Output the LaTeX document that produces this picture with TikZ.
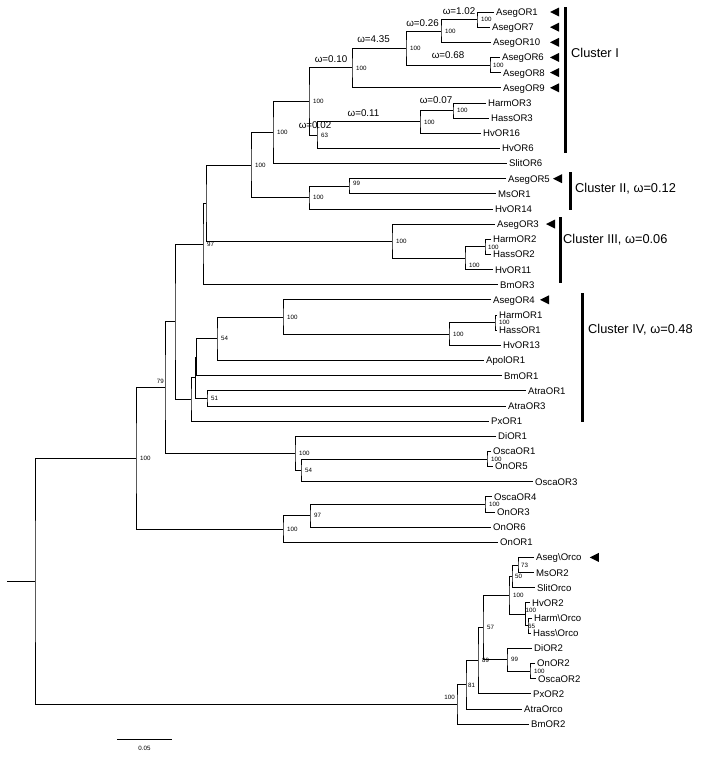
\documentclass[tikz,border=0pt]{standalone}
\usepackage{fontspec}
\setmainfont{Liberation Sans}
\newcommand\LeafY[1]{12+15.15*(#1)}
\newcommand\TriAt[2]{\fill (#1,{#2}) -- ++(9,-4.5) -- ++(0,9) -- cycle;}
\begin{document}
\begin{tikzpicture}[x=1pt,y=-1pt,
 br/.style={line width=0.75pt,black},
 leaf/.style={anchor=west,font=\fontsize{9.6}{10}\selectfont,inner xsep=2pt,inner ysep=0pt,text height=6.9pt,text depth=0pt},
 bs/.style={anchor=west,font=\fontsize{6.2}{7}\selectfont,inner sep=0pt,text height=4.5pt,text depth=0pt},
 bsl/.style={anchor=south east,font=\fontsize{6.2}{7}\selectfont,inner sep=0pt,text height=4.5pt,text depth=0pt},
 om/.style={font=\fontsize{9.8}{10}\selectfont,inner sep=0pt,text height=7pt,text depth=0pt},
 cl/.style={anchor=west,font=\fontsize{12.8}{13}\selectfont,inner sep=0pt,text height=9.2pt,text depth=0pt},
 bar/.style={line width=3pt},
]
\useasboundingbox (0,0) rectangle (702,758);

% ---------------- leaves ----------------
\node[leaf] (AsegOR1)  at (494,{\LeafY{0}})  {AsegOR1};
\node[leaf] (AsegOR7)  at (490,{\LeafY{1}})  {AsegOR7};
\node[leaf] (AsegOR10) at (491,{\LeafY{2}})  {AsegOR10};
\node[leaf] (AsegOR6)  at (500,{\LeafY{3}})  {AsegOR6};
\node[leaf] (AsegOR8)  at (501,{\LeafY{4}})  {AsegOR8};
\node[leaf] (AsegOR9)  at (501,{\LeafY{5}})  {AsegOR9};
\node[leaf] (HarmOR3)  at (486,{\LeafY{6}})  {HarmOR3};
\node[leaf] (HassOR3)  at (489,{\LeafY{7}})  {HassOR3};
\node[leaf] (HvOR16)   at (481,{\LeafY{8}})  {HvOR16};
\node[leaf] (HvOR6)    at (500,{\LeafY{9}})  {HvOR6};
\node[leaf] (SlitOR6)  at (507,{\LeafY{10}}) {SlitOR6};
\node[leaf] (AsegOR5)  at (506,{\LeafY{11}}) {AsegOR5};
\node[leaf] (MsOR1)    at (496,{\LeafY{12}}) {MsOR1};
\node[leaf] (HvOR14)   at (493,{\LeafY{13}}) {HvOR14};
\node[leaf] (AsegOR3)  at (495,{\LeafY{14}}) {AsegOR3};
\node[leaf] (HarmOR2)  at (491,{\LeafY{15}}) {HarmOR2};
\node[leaf] (HassOR2)  at (491,{\LeafY{16}}) {HassOR2};
\node[leaf] (HvOR11)   at (493,{\LeafY{17}}) {HvOR11};
\node[leaf] (BmOR3)    at (498,{\LeafY{18}}) {BmOR3};
\node[leaf] (AsegOR4)  at (491,{\LeafY{19}}) {AsegOR4};
\node[leaf] (HarmOR1)  at (497,{\LeafY{20}}) {HarmOR1};
\node[leaf] (HassOR1)  at (497,{\LeafY{21}}) {HassOR1};
\node[leaf] (HvOR13)   at (501,{\LeafY{22}}) {HvOR13};
\node[leaf] (ApolOR1)  at (484,{\LeafY{23}}) {ApolOR1};
\node[leaf] (BmOR1)    at (502,{\LeafY{24}}) {BmOR1};
\node[leaf] (AtraOR1)  at (526,{\LeafY{25}}) {AtraOR1};
\node[leaf] (AtraOR3)  at (506,{\LeafY{26}}) {AtraOR3};
\node[leaf] (PxOR1)    at (489,{\LeafY{27}}) {PxOR1};
\node[leaf] (DiOR1)    at (496,{\LeafY{28}}) {DiOR1};
\node[leaf] (OscaOR1)  at (491,{\LeafY{29}}) {OscaOR1};
\node[leaf] (OnOR5)    at (493,{\LeafY{30}}) {OnOR5};
\node[leaf] (OscaOR3)  at (533,{\LeafY{31}}) {OscaOR3};
\node[leaf] (OscaOR4)  at (492,{\LeafY{32}}) {OscaOR4};
\node[leaf] (OnOR3)    at (495,{\LeafY{33}}) {OnOR3};
\node[leaf] (OnOR6)    at (491,{\LeafY{34}}) {OnOR6};
\node[leaf] (OnOR1)    at (498,{\LeafY{35}}) {OnOR1};
\node[leaf] (AsegOrco) at (534,{\LeafY{36}}) {Aseg\textbackslash Orco};
\node[leaf] (MsOR2)    at (534,{\LeafY{37}}) {MsOR2};
\node[leaf] (SlitOrco) at (535,{\LeafY{38}}) {SlitOrco};
\node[leaf] (HvOR2)    at (530,{\LeafY{39}}) {HvOR2};
\node[leaf] (HarmOrco) at (532,{\LeafY{40}}) {Harm\textbackslash Orco};
\node[leaf] (HassOrco) at (531,{\LeafY{41}}) {Hass\textbackslash Orco};
\node[leaf] (DiOR2)    at (532,{\LeafY{42}}) {DiOR2};
\node[leaf] (OnOR2)    at (535,{\LeafY{43}}) {OnOR2};
\node[leaf] (OscaOR2)  at (536,{\LeafY{44}}) {OscaOR2};
\node[leaf] (PxOR2)    at (531,{\LeafY{45}}) {PxOR2};
\node[leaf] (AtraOrco) at (522,{\LeafY{46}}) {AtraOrco};
\node[leaf] (BmOR2)    at (529,{\LeafY{47}}) {BmOR2};

% ---------------- internal nodes ----------------
\coordinate (n1)  at (477,{\LeafY{0.5}});
\coordinate (n2)  at (441,{\LeafY{1.25}});
\coordinate (n3)  at (490,{\LeafY{3.5}});
\coordinate (n4)  at (406,{\LeafY{2.375}});
\coordinate (n5)  at (352,{\LeafY{3.6875}});
\coordinate (n6)  at (453,{\LeafY{6.5}});
\coordinate (n7)  at (420,{\LeafY{7.25}});
\coordinate (n8)  at (317,{\LeafY{8.125}});
\coordinate (n9)  at (309,{\LeafY{5.90625}});
\coordinate (n10) at (273,{\LeafY{7.953125}});
\coordinate (n11) at (349,{\LeafY{11.5}});
\coordinate (n12) at (309,{\LeafY{12.25}});
\coordinate (n13) at (251,{\LeafY{10.1015625}});
\coordinate (n14) at (485,{\LeafY{15.5}});
\coordinate (n15) at (465,{\LeafY{16.25}});
\coordinate (n16) at (392,{\LeafY{15.125}});
\coordinate (n17) at (206,{\LeafY{12.61328}});
\coordinate (n18) at (203,{\LeafY{15.30664}});
\coordinate (n19) at (495,{\LeafY{20.5}});
\coordinate (n20) at (449,{\LeafY{21.25}});
\coordinate (n21) at (283,{\LeafY{20.125}});
\coordinate (n22) at (217,{\LeafY{21.5625}});
\coordinate (n23) at (196.3,{\LeafY{22.78125}});
\coordinate (n24) at (207,{\LeafY{25.5}});
\coordinate (n25) at (195.3,{\LeafY{24.140625}});
\coordinate (n26) at (191,{\LeafY{25.5703125}});
\coordinate (n27) at (175,{\LeafY{20.43848}});
\coordinate (n28) at (487,{\LeafY{29.5}});
\coordinate (n29) at (301,{\LeafY{30.25}});
\coordinate (n30) at (295,{\LeafY{29.125}});
\coordinate (n31) at (165,{\LeafY{24.78174}});
\coordinate (n32) at (485,{\LeafY{32.5}});
\coordinate (n33) at (310,{\LeafY{33.25}});
\coordinate (n34) at (283,{\LeafY{34.125}});
\coordinate (n35) at (136,{\LeafY{29.45337}});
\coordinate (o1)  at (518,{\LeafY{36.5}});
\coordinate (o2)  at (512,{\LeafY{37.25}});
\coordinate (o3)  at (528,{\LeafY{40.5}});
\coordinate (o4)  at (525.5,{\LeafY{39.75}});
\coordinate (o5)  at (509,{\LeafY{38.5}});
\coordinate (o6)  at (530,{\LeafY{43.5}});
\coordinate (o7)  at (507,{\LeafY{42.75}});
\coordinate (o8)  at (483,{\LeafY{40.625}});
\coordinate (o9)  at (478,{\LeafY{42.8125}});
\coordinate (o10) at (466,{\LeafY{44.40625}});
\coordinate (o11) at (457,{\LeafY{45.703125}});
\coordinate (root) at (35,{\LeafY{37.578247}});
\coordinate (stub) at (7,{\LeafY{37.578247}});

% ---------------- branches ----------------
\draw[br] (AsegOR1.west) -| (n1) |- (AsegOR7.west);
\draw[br] (n1) -| (n2) |- (AsegOR10.west);
\draw[br] (AsegOR6.west) -| (n3) |- (AsegOR8.west);
\draw[br] (n2) -| (n4) |- (n3);
\draw[br] (n4) -| (n5) |- (AsegOR9.west);
\draw[br] (HarmOR3.west) -| (n6) |- (HassOR3.west);
\draw[br] (n6) -| (n7) |- (HvOR16.west);
\draw[br] (n7) -| (n8) |- (HvOR6.west);
\draw[br] (n5) -| (n9) |- (n8);
\draw[br] (n9) -| (n10) |- (SlitOR6.west);
\draw[br] (AsegOR5.west) -| (n11) |- (MsOR1.west);
\draw[br] (n11) -| (n12) |- (HvOR14.west);
\draw[br] (n10) -| (n13) |- (n12);
\draw[br] (HarmOR2.west) -| (n14) |- (HassOR2.west);
\draw[br] (n14) -| (n15) |- (HvOR11.west);
\draw[br] (AsegOR3.west) -| (n16) |- (n15);
\draw[br] (n13) -| (n17) |- (n16);
\draw[br] (n17) -| (n18) |- (BmOR3.west);
\draw[br] (HarmOR1.west) -| (n19) |- (HassOR1.west);
\draw[br] (n19) -| (n20) |- (HvOR13.west);
\draw[br] (AsegOR4.west) -| (n21) |- (n20);
\draw[br] (n21) -| (n22) |- (ApolOR1.west);
\draw[br] (n22) -| (n23) |- (BmOR1.west);
\draw[br] (AtraOR1.west) -| (n24) |- (AtraOR3.west);
\draw[br] (n23) -| (n25) |- (n24);
\draw[br] (n25) -| (n26) |- (PxOR1.west);
\draw[br] (n18) -| (n27) |- (n26);
\draw[br] (OscaOR1.west) -| (n28) |- (OnOR5.west);
\draw[br] (n28) -| (n29) |- (OscaOR3.west);
\draw[br] (DiOR1.west) -| (n30) |- (n29);
\draw[br] (n27) -| (n31) |- (n30);
\draw[br] (OscaOR4.west) -| (n32) |- (OnOR3.west);
\draw[br] (n32) -| (n33) |- (OnOR6.west);
\draw[br] (n33) -| (n34) |- (OnOR1.west);
\draw[br] (n31) -| (n35) |- (n34);
\draw[br] (AsegOrco.west) -| (o1) |- (MsOR2.west);
\draw[br] (o1) -| (o2) |- (SlitOrco.west);
\draw[br] (HarmOrco.west) -| (o3) |- (HassOrco.west);
\draw[br] (HvOR2.west) -| (o4) |- (o3);
\draw[br] (o2) -| (o5) |- (o4);
\draw[br] (OnOR2.west) -| (o6) |- (OscaOR2.west);
\draw[br] (DiOR2.west) -| (o7) |- (o6);
\draw[br] (o5) -| (o8) |- (o7);
\draw[br] (o8) -| (o9) |- (PxOR2.west);
\draw[br] (o9) -| (o10) |- (AtraOrco.west);
\draw[br] (o10) -| (o11) |- (BmOR2.west);
\draw[br] (n35) -| (root) |- (o11);
\draw[br] (stub) -- (root);

% ---------------- bootstrap values ----------------
\node[bs] (b1)  at ([xshift=4pt]n1)  {100};
\node[bs] (b2)  at ([xshift=4pt]n2)  {100};
\node[bs] (b3)  at ([xshift=3pt]n3)  {100};
\node[bs] (b4)  at ([xshift=4pt]n4)  {100};
\node[bs] (b5)  at ([xshift=4pt]n5)  {100};
\node[bs] (b6)  at ([xshift=4pt]n6)  {100};
\node[bs] (b7)  at ([xshift=4pt]n7)  {100};
\node[bs] (b8)  at ([xshift=4pt]n8)  {63};
\node[bs] (b9)  at ([xshift=4pt]n9)  {100};
\node[bs] (b10) at ([xshift=4pt]n10) {100};
\node[bs] (b11) at ([xshift=4pt,yshift=3pt]n11) {99};
\node[bs] (b12) at ([xshift=4pt]n12) {100};
\node[bs] (b13) at ([xshift=4pt]n13) {100};
\node[bs] (b14) at ([xshift=3pt]n14) {100};
\node[bs] (b15) at ([xshift=4pt,yshift=-7pt]n15) {100};
\node[bs] (b16) at ([xshift=4pt]n16) {100};
\node[bs] (b18) at ([xshift=4pt]n18) {97};
\node[bs] (b19) at ([xshift=4pt]n19) {100};
\node[bs] (b20) at ([xshift=4pt]n20) {100};
\node[bs] (b21) at ([xshift=4pt]n21) {100};
\node[bs] (b22) at ([xshift=4pt]n22) {54};
\node[bs] (b24) at ([xshift=4pt]n24) {51};
\node[bs] (b28) at ([xshift=4pt]n28) {100};
\node[bs] (b29) at ([xshift=4pt]n29) {54};
\node[bs] (b30) at ([xshift=4pt]n30) {100};
\node[bsl] (b31) at ([xshift=-1pt,yshift=3.5pt]n31) {79};
\node[bs] (b32) at ([xshift=4pt]n32) {100};
\node[bs] (b33) at ([xshift=4pt]n33) {97};
\node[bs] (b34) at ([xshift=4pt]n34) {100};
\node[bs] (b35) at ([xshift=4pt]n35) {100};
\node[bs] (c1)  at ([xshift=3pt]o1)  {73};
\node[bs] (c2)  at ([xshift=3pt]o2)  {50};
\node[bs] (c3)  at ([xshift=0pt,yshift=-1pt]o3)  {65};
\node[bs] (c4)  at ([xshift=0pt,yshift=3.5pt]o4)  {100};
\node[bs] (c5)  at ([xshift=4pt]o5)  {100};
\node[bs] (c6)  at ([xshift=4pt]o6)  {100};
\node[bs] (c7)  at ([xshift=4pt]o7)  {99};
\node[bs] (c8)  at ([xshift=4pt]o8)  {57};
\node[bs] (c9)  at ([xshift=4pt]o9)  {89};
\node[bs] (c10) at ([xshift=2pt]o10) {81};
\node[bsl] (c11) at ([xshift=-2pt,yshift=4.5pt]o11) {100};

% ---------------- omega values ----------------
\node[om] (w1) at (331,59)   {ω=0.10};
\node[om] (w2) at (373.5,39) {ω=4.35};
\node[om] (w3) at (422.5,23) {ω=0.26};
\node[om] (w4) at (459,11)   {ω=1.02};
\node[om] (w5) at (448,55)   {ω=0.68};
\node[om] (w6) at (363.5,113){ω=0.11};
\node[om] (w7) at (436,100)  {ω=0.07};
\node[om] (w8) at (315,125)  {ω=0.02};

% ---------------- markers ----------------
\TriAt{550}{\LeafY{0}}
\TriAt{550}{\LeafY{1}}
\TriAt{550}{\LeafY{2}}
\TriAt{550}{\LeafY{3}}
\TriAt{550}{\LeafY{4}}
\TriAt{550}{\LeafY{5}}
\TriAt{553}{\LeafY{11}}
\TriAt{546}{\LeafY{14}}
\TriAt{540}{\LeafY{19}}
\fill ([xshift=6pt]AsegOrco.east) -- ++(9,-4.5) -- ++(0,9) -- cycle;

% ---------------- clusters ----------------
\draw[bar] (565.5,7) -- (565.5,153);
\draw[bar] (570.5,172) -- (570.5,210);
\draw[bar] (560,217) -- (560,283);
\draw[bar] (582.5,293) -- (582.5,422);
\node[cl] (k1) at (571,53)  {Cluster I};
\node[cl] (k2) at (575,188) {Cluster II, ω=0.12};
\node[cl] (k3) at (563,239) {Cluster III, ω=0.06};
\node[cl] (k4) at (588,329) {Cluster IV, ω=0.48};

% ---------------- scale bar ----------------
\coordinate (sb1) at (117,739);
\coordinate (sb2) at (172,739);
\draw[br] (sb1) -- (sb2);
\node[bs,anchor=center] (sbl) at (144.5,748) {0.05};
\end{tikzpicture}
\end{document}
